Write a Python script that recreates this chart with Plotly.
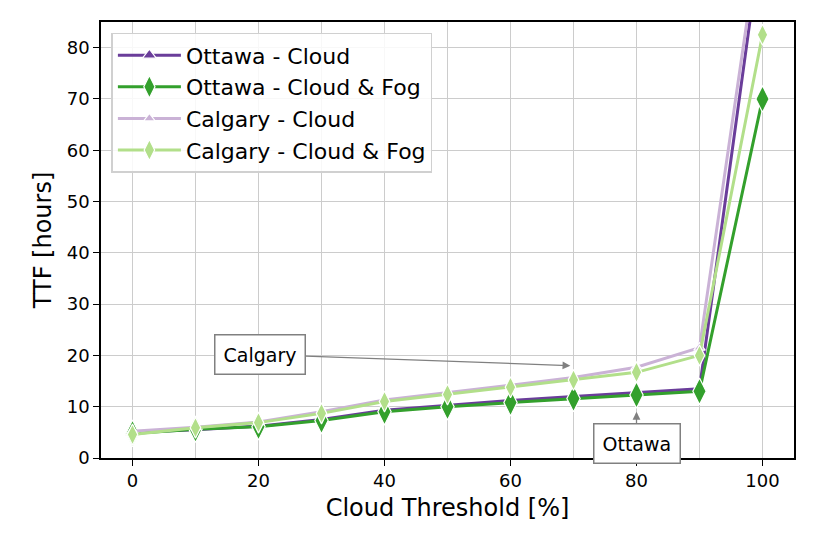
import plotly.graph_objects as go

thresholds = [0, 10, 20, 30, 40, 50, 60, 70, 80, 90, 100]
ottawa_cloud = [5.0, 5.5, 6.2, 7.5, 9.3, 10.3, 11.2, 12.0, 12.8, 13.5, 103]
ottawa_cloud_fog = [4.8, 5.6, 6.1, 7.3, 9.0, 10.0, 10.8, 11.6, 12.3, 13.0, 70.0]
calgary_cloud = [5.2, 6.0, 7.0, 9.0, 11.3, 12.7, 14.2, 15.7, 17.7, 21.5, 106]
calgary_cloud_fog = [4.6, 5.9, 6.9, 8.7, 11.0, 12.4, 13.8, 15.2, 16.7, 20.0, 82.5]

series = [
    ("Ottawa - Cloud", ottawa_cloud, "#6a3d9a", "triangle-up", 12),
    ("Ottawa - Cloud & Fog", ottawa_cloud_fog, "#33a02c", "diamond-tall", 19),
    ("Calgary - Cloud", calgary_cloud, "#cab2d6", "triangle-up", 10),
    ("Calgary - Cloud & Fog", calgary_cloud_fog, "#b2df8a", "diamond-tall", 15),
]

fig = go.Figure()
for name, vals, color, sym, size in series:
    fig.add_trace(go.Scatter(
        x=thresholds, y=vals, name=name, mode="lines+markers",
        line=dict(color=color, width=3),
        marker=dict(symbol=sym, size=size, color=color, line=dict(color="white", width=1.2)),
        cliponaxis=True,
    ))

fig.add_annotation(x=69.5, y=18, ax=20.3, ay=20.2, axref="x", ayref="y",
                   text="Calgary", showarrow=True, arrowhead=2, arrowsize=1.2, arrowwidth=1.3,
                   arrowcolor="#808080", bordercolor="#808080", borderwidth=1.5, borderpad=8,
                   bgcolor="white", font=dict(size=19, color="black"))
fig.add_annotation(x=80, y=9.0, ax=80, ay=2.8, axref="x", ayref="y",
                   text="Ottawa", showarrow=True, arrowhead=2, arrowsize=1.2, arrowwidth=1.3,
                   arrowcolor="#808080", bordercolor="#808080", borderwidth=1.5, borderpad=8,
                   bgcolor="white", font=dict(size=19, color="black"))

axis_common = dict(showline=True, linecolor="black", linewidth=1.5, mirror=True,
                   ticks="outside", ticklen=6, tickcolor="black", tickwidth=1.2,
                   showgrid=True, gridcolor="#cccccc", gridwidth=1, zeroline=False,
                   tickfont=dict(size=18, color="black"))

fig.update_xaxes(range=[-5, 105], tickvals=[0, 20, 40, 60, 80, 100],
                 title=dict(text="Cloud Threshold [%]", font=dict(size=24, color="black"), standoff=9),
                 **axis_common)
fig.update_xaxes(minor=dict(tickvals=[10, 30, 50, 70, 90], showgrid=True, gridcolor="#cccccc", ticks=""))
fig.update_yaxes(range=[0, 85], tickvals=[0, 10, 20, 30, 40, 50, 60, 70, 80],
                 title=dict(text="TTF [hours]", font=dict(size=24, color="black"), standoff=8),
                 **axis_common)

fig.update_layout(
    width=814, height=543,
    margin=dict(l=93, r=28, t=12, b=93),
    paper_bgcolor="white", plot_bgcolor="white",
    font=dict(family="DejaVu Sans", color="black"),
    showlegend=True,
    legend=dict(x=0.015, y=0.975, xanchor="left", yanchor="top",
                bgcolor="rgba(255,255,255,0.85)", bordercolor="#d0d0d0", borderwidth=1.5,
                font=dict(size=22, color="black"), itemwidth=63, tracegroupgap=0),
)

fig.write_html("out.html")
